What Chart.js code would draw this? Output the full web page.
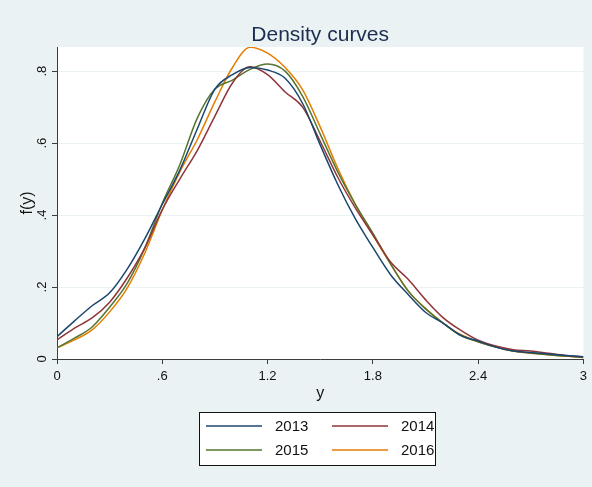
<!DOCTYPE html>
<html>
<head>
<meta charset="utf-8">
<script src="https://cdn.jsdelivr.net/npm/chart.js@4.4.1/dist/chart.umd.min.js"></script>
<style>
  html, body { margin: 0; padding: 0; background: #eaf2f3; }
  canvas { display: block; }
</style>
</head>
<body>
<canvas id="densChart" width="592" height="487"></canvas>
<script>
// kernel density estimates, evaluated every 0.1 on y
const xs = [0, 0.1, 0.2, 0.3, 0.4, 0.5, 0.6, 0.7, 0.8, 0.9, 1.0, 1.1, 1.2, 1.3, 1.4, 1.5,
            1.6, 1.7, 1.8, 1.9, 2.0, 2.1, 2.2, 2.3, 2.4, 2.5, 2.6, 2.7, 2.8, 2.9, 3.0];
const d2013 = [0.062, 0.106, 0.148, 0.184, 0.250, 0.334, 0.430, 0.525, 0.640, 0.750, 0.790, 0.810, 0.803, 0.780, 0.710, 0.595,
               0.485, 0.390, 0.310, 0.235, 0.180, 0.130, 0.100, 0.066, 0.050, 0.033, 0.022, 0.018, 0.014, 0.010, 0.006];
const d2014 = [0.053, 0.086, 0.114, 0.158, 0.225, 0.308, 0.415, 0.500, 0.580, 0.675, 0.767, 0.812, 0.790, 0.742, 0.700, 0.605,
               0.505, 0.420, 0.345, 0.270, 0.222, 0.165, 0.115, 0.080, 0.052, 0.036, 0.026, 0.022, 0.016, 0.010, 0.006];
const d2015 = [0.031, 0.058, 0.089, 0.144, 0.210, 0.308, 0.433, 0.540, 0.670, 0.750, 0.775, 0.805, 0.820, 0.800, 0.730, 0.625,
               0.520, 0.430, 0.350, 0.265, 0.190, 0.140, 0.100, 0.066, 0.048, 0.033, 0.022, 0.017, 0.012, 0.008, 0.004];
const d2016 = [0.031, 0.053, 0.081, 0.131, 0.197, 0.294, 0.414, 0.520, 0.610, 0.715, 0.810, 0.866, 0.850, 0.810, 0.748, 0.645,
               0.530, 0.430, 0.345, 0.265, 0.190, 0.140, 0.100, 0.068, 0.048, 0.034, 0.022, 0.016, 0.012, 0.008, 0.004];
const years = ['2013', '2014', '2015', '2016'];
const colors = ['#1a476f', '#90353b', '#55752f', '#e37e00'];
const xTicks = [0, 0.6, 1.2, 1.8, 2.4, 3];
const yTicks = [0, 0.2, 0.4, 0.6, 0.8];

const FONT = "'Liberation Sans', Arial, sans-serif";
const AXIS = '#3c3c3c';

// stata style numbers: .6 instead of 0.6
function fmt(v) {
    const s = String(Math.round(v * 10) / 10);
    return s.startsWith('0.') ? s.slice(1) : s;
}

const series = [d2013, d2014, d2015, d2016];

const stataLook = {
    id: 'stataLook',
    beforeDraw(chart) {
        const { ctx, chartArea: a } = chart;
        ctx.save();
        ctx.fillStyle = '#eaf2f3';
        ctx.fillRect(0, 0, chart.width, chart.height);
        ctx.fillStyle = '#ffffff';
        ctx.fillRect(a.left, a.top, a.right - a.left, a.bottom - a.top);
        ctx.restore();
    },
    afterDraw(chart) {
        const { ctx, chartArea: a } = chart;
        const yScale = chart.scales.y;
        const mid = (a.left + a.right) / 2;
        ctx.save();

        // title
        ctx.fillStyle = '#1c2d4f';
        ctx.font = '21px ' + FONT;
        ctx.textAlign = 'center';
        ctx.textBaseline = 'alphabetic';
        ctx.fillText('Density curves', mid, 41);

        // x axis title
        ctx.fillStyle = '#111';
        ctx.font = '16px ' + FONT;
        ctx.fillText('y', mid, 398);

        // rotated y tick labels + title
        ctx.textBaseline = 'middle';
        yTicks.forEach(v => {
            ctx.save();
            ctx.translate(42, yScale.getPixelForValue(v));
            ctx.rotate(-Math.PI / 2);
            ctx.font = '13px ' + FONT;
            ctx.fillText(fmt(v), 0, 0);
            ctx.restore();
        });
        ctx.save();
        ctx.translate(28, (a.top + a.bottom) / 2);
        ctx.rotate(-Math.PI / 2);
        ctx.font = '16px ' + FONT;
        ctx.fillText('f(y)', 0, 0);
        ctx.restore();

        // legend box, 2 x 2
        const bx = 199, by = 412, bw = 236, bh = 53;
        ctx.fillStyle = '#ffffff';
        ctx.fillRect(bx, by, bw, bh);
        ctx.strokeStyle = '#111';
        ctx.lineWidth = 1;
        ctx.strokeRect(bx + 0.5, by + 0.5, bw, bh);
        ctx.font = '15px ' + FONT;
        ctx.textAlign = 'left';
        chart.data.datasets.forEach((ds, i) => {
            const col = i % 2, row = Math.floor(i / 2);
            const lx = bx + 7 + col * 126;
            const ly = by + 14 + row * 24;
            ctx.strokeStyle = ds.borderColor;
            ctx.lineWidth = 1.5;
            ctx.beginPath();
            ctx.moveTo(lx, ly);
            ctx.lineTo(lx + 56, ly);
            ctx.stroke();
            ctx.fillStyle = '#111';
            ctx.fillText(ds.label, lx + 69, ly + 1);
        });
        ctx.restore();
    }
};

const ctx = document.getElementById('densChart').getContext('2d');
new Chart(ctx, {
    type: 'line',
    data: {
        datasets: series.map((s, i) => ({
            label: years[i],
            data: xs.map((x, j) => ({ x: x, y: s[j] })),
            borderColor: colors[i],
            borderWidth: 1.5,
            pointRadius: 0,
            fill: false,
            cubicInterpolationMode: 'monotone',
        }))
    },
    options: {
        responsive: false,
        animation: false,
        layout: { padding: { left: 0, right: 7, top: 47, bottom: 0 } },
        plugins: { legend: { display: false }, tooltip: { enabled: false } },
        scales: {
            x: {
                type: 'linear', min: 0, max: 3,
                afterBuildTicks: s => { s.ticks = xTicks.map(v => ({ value: v })); },
                afterFit: s => { s.height = 128; },
                grid: { drawOnChartArea: false, tickLength: 5, tickColor: AXIS },
                border: { color: AXIS, width: 1 },
                ticks: {
                    padding: 5, color: '#111', maxRotation: 0,
                    font: { family: FONT, size: 13 },
                    callback: v => fmt(v)
                }
            },
            y: {
                min: 0, max: 0.867,
                afterBuildTicks: s => { s.ticks = yTicks.map(v => ({ value: v })); },
                afterFit: s => { s.width = 57; },
                grid: { color: '#eaf2f3', lineWidth: 1, tickLength: 5, tickColor: AXIS },
                border: { color: AXIS, width: 1 },
                ticks: { display: false }
            }
        }
    },
    plugins: [stataLook]
});
</script>
</body>
</html>
